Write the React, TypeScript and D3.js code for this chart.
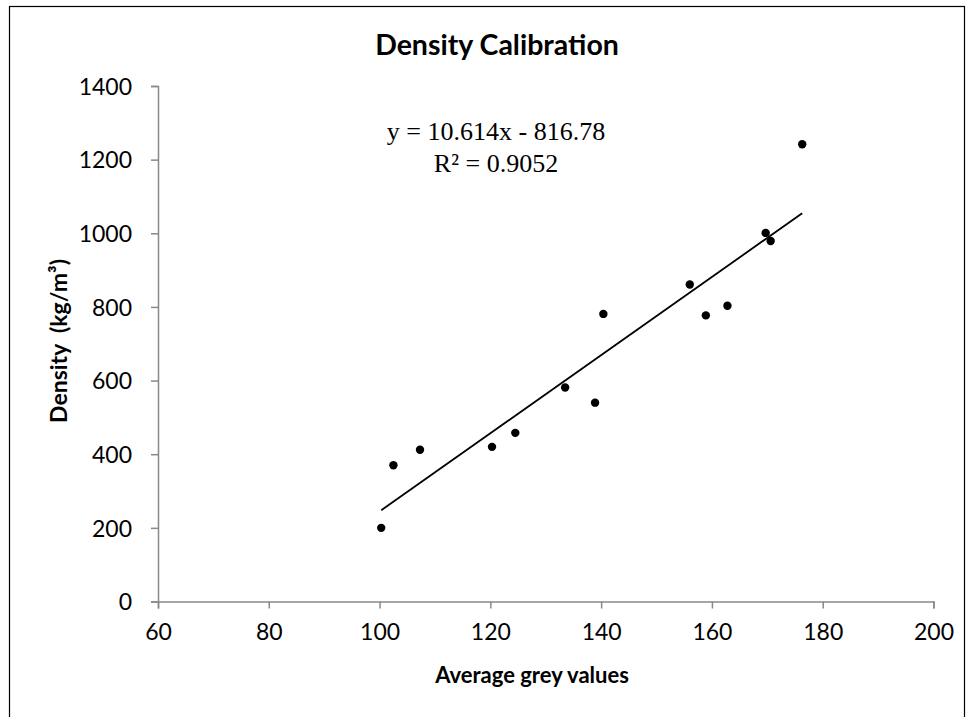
import React, { useRef, useEffect } from "react";
import * as d3 from "d3";

// measured sample points (average grey value vs density)
const greyValues = [100.3, 102.5, 107.3, 120.3, 124.5, 133.5, 138.9, 140.4, 156.0, 158.9, 162.8, 169.7, 170.6, 176.3];
const densities = [200, 370, 412, 420, 458, 581, 540, 781, 861, 777, 803, 1001, 979, 1242];

// linear trendline as printed on the chart
const slope = 10.614;
const intercept = -816.78;
const rSquared = "0.9052";

const xTicks = [60, 80, 100, 120, 140, 160, 180, 200];
const yTicks = [0, 200, 400, 600, 800, 1000, 1200, 1400];

const W = 968,
	H = 717;

const drawChart = (svgEl: SVGSVGElement) => {
	const svg = d3.select(svgEl);
	svg.selectAll("*").remove();

	const axisColor = "#898989";
	const tickFont = "Lato, 'Open Sans', sans-serif";

	const x = d3.scaleLinear().domain([60, 200]).range([158, 933.5]);
	const y = d3.scaleLinear().domain([0, 1400]).range([601.5, 86]);

	svg.attr("width", W).attr("height", H);

	// chart frame
	svg
		.append("rect")
		.attr("x", 9.5)
		.attr("y", 6.5)
		.attr("width", 955)
		.attr("height", 800)
		.attr("fill", "white")
		.attr("stroke", "#000")
		.attr("stroke-width", 1.2);

	// y axis
	const yAxis = svg
		.append("g")
		.attr("transform", `translate(${x(60)},0)`)
		.call(
			d3.axisLeft(y).tickValues(yTicks).tickFormat(d3.format("d")).tickSize(7).tickSizeOuter(7).tickPadding(19)
		);
	// x axis
	const xAxis = svg
		.append("g")
		.attr("transform", `translate(0,${y(0)})`)
		.call(
			d3.axisBottom(x).tickValues(xTicks).tickFormat(d3.format("d")).tickSize(7).tickSizeOuter(7).tickPadding(15)
		);

	[xAxis, yAxis].forEach((g) => {
		g.selectAll("path, line").attr("stroke", axisColor).attr("stroke-width", 1.5);
		g.selectAll("text")
			.attr("fill", "#000")
			.style("font-family", tickFont)
			.style("font-size", "23px");
	});
	yAxis.selectAll("text").attr("dy", "0.36em");

	// trendline
	const xMin = d3.min(greyValues)!;
	const xMax = d3.max(greyValues)!;
	svg
		.append("line")
		.attr("x1", x(xMin))
		.attr("y1", y(slope * xMin + intercept))
		.attr("x2", x(xMax))
		.attr("y2", y(slope * xMax + intercept))
		.attr("stroke", "#000")
		.attr("stroke-width", 1.8);

	// points
	svg
		.append("g")
		.selectAll("circle")
		.data(greyValues)
		.enter()
		.append("circle")
		.attr("cx", (d) => x(d))
		.attr("cy", (d, i) => y(densities[i]))
		.attr("r", 4.2)
		.attr("fill", "#000");

	// equation label
	const eq = svg
		.append("text")
		.attr("text-anchor", "middle")
		.style("font-family", "'Liberation Serif', 'Times New Roman', serif")
		.style("font-size", "26px")
		.attr("fill", "#000");
	eq.append("tspan")
		.attr("x", 496)
		.attr("y", 140)
		.text(`y = ${slope}x - ${Math.abs(intercept)}`);
	eq.append("tspan").attr("x", 496).attr("y", 172).text(`R² = ${rSquared}`);

	// title
	svg
		.append("text")
		.attr("x", 497)
		.attr("y", 55)
		.attr("text-anchor", "middle")
		.style("font-family", tickFont)
		.style("font-weight", "bold")
		.style("font-size", "28.5px")
		.text("Density Calibration");

	// x axis title
	svg
		.append("text")
		.attr("x", 532)
		.attr("y", 683)
		.attr("text-anchor", "middle")
		.style("font-family", tickFont)
		.style("font-weight", "bold")
		.style("font-size", "22px")
		.text("Average grey values");

	// y axis title
	svg
		.append("text")
		.attr("transform", "translate(67,341) rotate(-90)")
		.attr("text-anchor", "middle")
		.style("font-family", tickFont)
		.style("font-weight", "bold")
		.style("font-size", "23px")
		.style("white-space", "pre")
		.text("Density  (kg/m³)");
};

const App = () => {
	const svgRef = useRef<SVGSVGElement>(null);

	useEffect(() => {
		if (svgRef.current) drawChart(svgRef.current);
	}, []);

	return (
		<div style={{ position: "absolute", left: 0, top: 0 }}>
			<svg ref={svgRef} style={{ display: "block", background: "#fff" }} />
		</div>
	);
};

export default App;
